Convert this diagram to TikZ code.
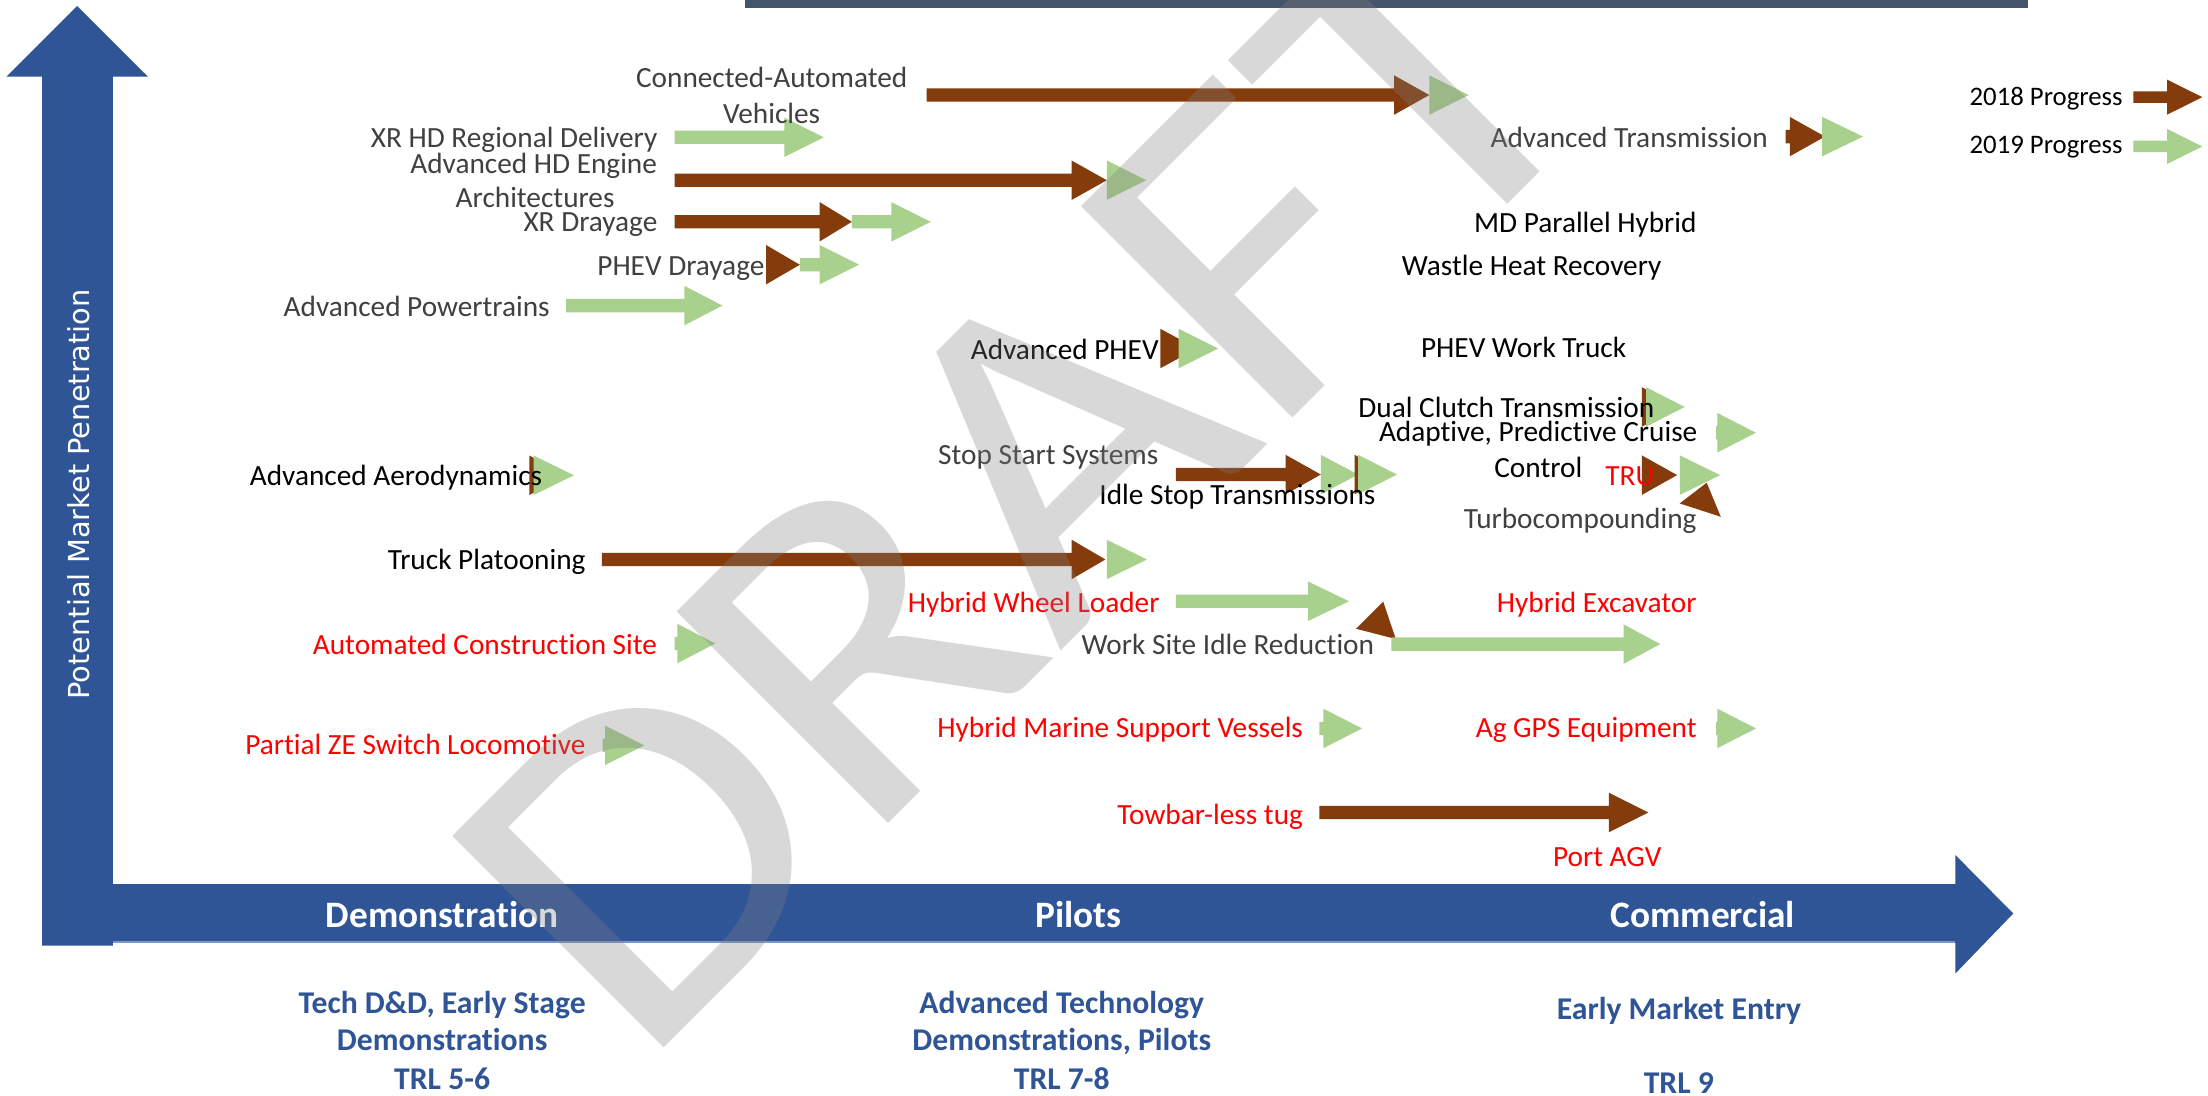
\documentclass[tikz,border=0pt]{standalone}
\usepackage{fontspec}
\setmainfont{Carlito}[Ligatures={TeX,NoCommon}]
\newfontfamily\vfont{DejaVu Sans}
\usepackage{graphicx}
\definecolor{axisblue}{HTML}{2F5597}
\definecolor{barslate}{HTML}{44546A}
\definecolor{brn}{HTML}{843C0C}
\definecolor{grn}{HTML}{A9D18E}
\definecolor{txtgray}{HTML}{404040}
\definecolor{wmgray}{HTML}{808080}
\definecolor{axisline}{HTML}{7A96CC}
% block arrow: colour, start x, head base x, tip x, y
\newcommand{\harr}[5]{\fill[#1] (#2,#5-4.75) -- (#3,#5-4.75) -- (#3,#5-14) -- (#4,#5) -- (#3,#5+14) -- (#3,#5+4.75) -- (#2,#5+4.75) -- cycle;}
% arrow head only: colour, base x, tip x, y
\newcommand{\hhead}[4]{\fill[#1] (#2,#4-14) -- (#3,#4) -- (#2,#4+14) -- cycle;}
% legend arrow: colour, y
\newcommand{\legarr}[2]{\fill[#1] (1515,#2-4.1) -- (1539,#2-4.1) -- (1539,#2-12.4) -- (1564,#2) -- (1539,#2+12.4) -- (1539,#2+4.1) -- (1515,#2+4.1) -- cycle;}
\tikzset{
  lbl/.style={inner sep=0, anchor=base east, yshift=-6.6pt, font=\fontsize{20.8}{25}\selectfont},
  lblc/.style={inner sep=0, anchor=base, yshift=-6.6pt, font=\fontsize{20.8}{25}\selectfont},
  grey/.style={text=txtgray},
  redt/.style={text=red},
  leg/.style={inner sep=0, anchor=base east, yshift=-6pt, font=\fontsize{19}{22}\selectfont},
  axlbl/.style={inner sep=0, anchor=base, yshift=-8.4pt, text=white, font=\bfseries\fontsize{26.5}{30}\selectfont},
  stage/.style={inner sep=0, anchor=base, yshift=-7.1pt, text=axisblue, font=\bfseries\fontsize{22.5}{27}\selectfont},
  wm/.style={rotate=45, anchor=base west, inner sep=0, text=wmgray, opacity=0.3, text opacity=0.3, font=\fontsize{331}{331}\selectfont}
}
\begin{document}
\begin{tikzpicture}[x=1pt,y=-1pt]
\useasboundingbox (0,0) rectangle (1568,778);
\clip (0,0) rectangle (1568,778);
\fill[white] (0,0) rectangle (1568,778);
% top bar
\fill[barslate] (529,0) rectangle (1440,5.4);
% axes
\fill[axisblue] (29.9,671.6) -- (29.9,54.5) -- (4.5,54.5) -- (54.8,4.3) -- (105.1,54.5) -- (80.2,54.5) -- (80.2,627.8) -- (1388.6,627.8) -- (1388.6,607.2) -- (1429.7,648.7) -- (1388.6,691.3) -- (1388.6,669.5) -- (80.2,669.5) -- (80.2,671.6) -- cycle;
\draw[axisline, line width=1.2pt] (80.2,669) -- (1388.6,669);
\node[inner sep=0, anchor=base, rotate=90, text=white, font=\vfont\fontsize{20.5}{24}\selectfont] (ytitle) at (63.8,351) {Potential Market Penetration};
\node[axlbl] (demo) at (314,650) {Demonstration};
\node[axlbl] (pilots) at (766,650) {Pilots};
\node[axlbl] (comm) at (1209.3,650) {Commercial};
\node[stage] (s1a) at (314,712.6) {Tech D\&D, Early Stage};
\node[stage] (s1b) at (314,738.6) {Demonstrations};
\node[stage] (s1c) at (314,766.6) {TRL 5-6};
\node[stage] (s2a) at (754,712.6) {Advanced Technology};
\node[stage] (s2b) at (754,738.6) {Demonstrations, Pilots};
\node[stage] (s2c) at (754,766.6) {TRL 7-8};
\node[stage] (s3a) at (1192.3,716.8) {Early Market Entry};
\node[stage] (s3b) at (1192.2,769.4) {TRL 9};
% progress arrows
\harr{brn}{658}{990}{1015}{67.5}
\hhead{grn}{1015}{1043}{67.5}
\harr{grn}{479}{557}{585}{97.5}
\harr{brn}{479}{761}{786}{128}
\hhead{grn}{786}{814}{128}
\harr{brn}{479}{582}{605}{157.5}
\harr{grn}{605}{633}{661}{157.5}
\hhead{brn}{544}{568}{188}
\harr{grn}{568}{582}{610}{188}
\harr{grn}{402}{486}{513}{217}
\hhead{brn}{824}{850}{247.5}
\hhead{grn}{837}{865}{247.5}
\harr{brn}{1268}{1271}{1296}{97}
\hhead{grn}{1294}{1323}{97}
\legarr{brn}{69}
\legarr{grn}{104}
\hhead{brn}{1166}{1192}{289}
\hhead{grn}{1169}{1196.4}{289}
\harr{grn}{1218.6}{1219.6}{1247}{307.3}
\hhead{brn}{1166}{1191}{337.4}
\hhead{grn}{1193}{1221.5}{337.4}
\fill[brn] (1192.8,357.5) -- (1212,342.8) -- (1222,367) -- cycle;
\harr{brn}{835}{913}{938}{337}
\hhead{grn}{938}{964.5}{337}
\hhead{brn}{962}{987}{337}
\hhead{grn}{964.5}{992}{337}
\hhead{brn}{376}{401}{337.5}
\hhead{grn}{379}{407.5}{337.5}
\harr{brn}{427.5}{761}{785}{397.3}
\hhead{grn}{786}{814.5}{397.3}
\harr{grn}{835}{929}{958}{427}
\fill[brn] (963,446.5) -- (982.3,427.3) -- (991.2,453.8) -- cycle;
\harr{grn}{988}{1153}{1179}{457.4}
\harr{grn}{479}{481}{508}{457}
\harr{grn}{428}{429.7}{457.6}{529.3}
\harr{grn}{937}{939.8}{967.3}{517.3}
\harr{grn}{1218.6}{1219.6}{1247}{517.3}
\harr{brn}{937}{1142.6}{1170.6}{577}
% labels
\node[lblc, grey] (cav1) at (548,55.6) {Connected-Automated};
\node[lblc, grey] (cav2) at (548,81.2) {Vehicles};
\node[lbl, grey] (xrhd) at (467,98.2) {XR HD Regional Delivery};
\node[lblc, grey] (ahd1) at (379,116.5) {Advanced HD Engine};
\node[lblc, grey] (ahd2) at (380,141) {Architectures};
\node[lbl, grey] (xrd) at (467,158) {XR Drayage};
\node[lbl, grey] (phd) at (543,189.4) {PHEV Drayage};
\node[lbl, grey] (apt) at (390.5,218) {Advanced Powertrains};
\node[lbl] (aphev) at (823,248.6) {Advanced PHEV};
\node[lbl] (mdph) at (1205,158.6) {MD Parallel Hybrid};
\node[lbl] (whr) at (1180,188.7) {Wastle Heat Recovery};
\node[lbl] (pwt) at (1155,247.4) {PHEV Work Truck};
\node[lbl, grey] (atr) at (1255.5,98.2) {Advanced Transmission};
\node[leg] (leg18) at (1507.5,69.1) {2018 Progress};
\node[leg] (leg19) at (1507.5,103) {2019 Progress};
\node[lbl] (dct) at (1175,290) {Dual Clutch Transmission};
\node[lblc] (apc1) at (1092.3,306.6) {Adaptive, Predictive Cruise};
\node[lblc] (apc2) at (1092.4,332.6) {Control};
\node[lbl, redt] (tru) at (1175,338.5) {TRU};
\node[lbl, grey] (turbo) at (1205,368.8) {Turbocompounding};
\node[lbl, grey] (sss) at (822.8,323.2) {Stop Start Systems};
\node[lbl] (ist) at (977,351.6) {Idle Stop Transmissions};
\node[lbl] (aero) at (385.2,338.5) {Advanced Aerodynamics};
\node[lbl] (tp) at (416,397.7) {Truck Platooning};
\node[lbl, redt] (hwl) at (823.6,428.5) {Hybrid Wheel Loader};
\node[lbl, grey] (wsir) at (976,458) {Work Site Idle Reduction};
\node[lbl, redt] (hex) at (1205,428.5) {Hybrid Excavator};
\node[lbl, redt] (acs) at (466.8,458) {Automated Construction Site};
\node[lbl, redt] (pze) at (416,529.5) {Partial ZE Switch Locomotive};
\node[lbl, redt] (hms) at (925.5,517.3) {Hybrid Marine Support Vessels};
\node[lbl, redt] (agps) at (1205,517.3) {Ag GPS Equipment};
\node[lbl, redt] (tbt) at (925.5,578.8) {Towbar-less tug};
\node[lbl, redt] (pagv) at (1180,608.4) {Port AGV};
% watermark
\node[wm] (draft) at (453.8,761.7) {\scalebox{1.1}[1]{DRAFT}};
\end{tikzpicture}
\end{document}
